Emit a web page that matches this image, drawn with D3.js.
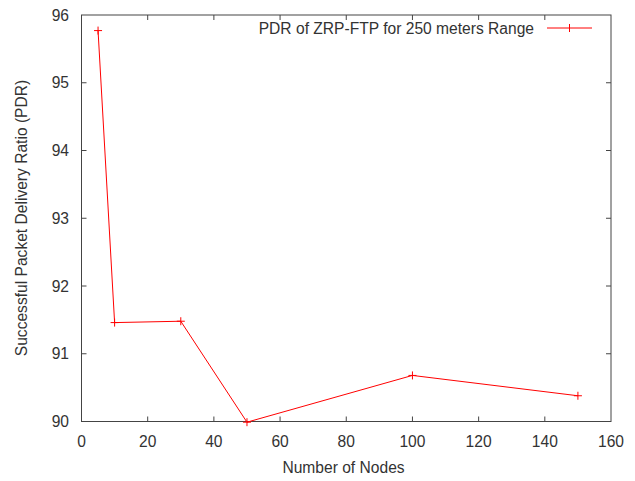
<!DOCTYPE html>
<html><head><meta charset="utf-8">
<script src="https://cdn.jsdelivr.net/npm/d3@7"></script>
<style>body{margin:0;background:#fff}svg{display:block}text{font-family:"Liberation Sans",Arial,sans-serif;fill:#333}</style>
</head><body>
<script>
const nodes = [5, 10, 30, 50, 100, 150];
const pdr = [95.77, 91.46, 91.48, 89.99, 90.68, 90.38];
const xTicks = [0, 20, 40, 60, 80, 100, 120, 140, 160];
const yTicks = [90, 91, 92, 93, 94, 95, 96];
const seriesName = "PDR of ZRP-FTP for 250 meters Range";

const W = 635, H = 481;
const L = 81.5, R = 611, T = 15, B = 421.5;
const FS = 15.6;
const svg = d3.select("body").append("svg").attr("width", W).attr("height", H);
const x = d3.scaleLinear().domain([0, 160]).range([L, R]);
const y = d3.scaleLinear().domain([90, 96]).range([B, T]);
const axisColor = "#444";
const tl = 5;

const g = svg.append("g");
xTicks.forEach(t => {
  if (t === 0 || t === 160) return;
  g.append("line").attr("x1", x(t)).attr("x2", x(t)).attr("y1", B).attr("y2", B - tl).attr("stroke", axisColor);
  g.append("line").attr("x1", x(t)).attr("x2", x(t)).attr("y1", T).attr("y2", T + tl).attr("stroke", axisColor);
});
yTicks.forEach(t => {
  if (t === 90 || t === 96) return;
  g.append("line").attr("x1", L).attr("x2", L + tl).attr("y1", y(t)).attr("y2", y(t)).attr("stroke", axisColor);
  g.append("line").attr("x1", R).attr("x2", R - tl).attr("y1", y(t)).attr("y2", y(t)).attr("stroke", axisColor);
});
g.append("rect").attr("x", L).attr("y", T).attr("width", R - L).attr("height", B - T)
  .attr("fill", "none").attr("stroke", axisColor).attr("stroke-width", 1);

xTicks.forEach(t => {
  svg.append("text").attr("x", x(t)).attr("y", B + 25).attr("text-anchor", "middle")
    .attr("font-size", FS).text(t);
});
yTicks.forEach(t => {
  svg.append("text").attr("x", 69).attr("y", y(t) + 5.5).attr("text-anchor", "end")
    .attr("font-size", FS).text(t);
});

svg.append("text").attr("x", 343.5).attr("y", 473).attr("text-anchor", "middle")
  .attr("font-size", FS).text("Number of Nodes");
svg.append("text").attr("transform", `translate(27,218) rotate(-90)`)
  .attr("text-anchor", "middle").attr("font-size", FS).text("Successful Packet Delivery Ratio (PDR)");

const data = nodes.map((n, i) => [n, pdr[i]]);
svg.append("path").datum(data).attr("fill", "none").attr("stroke", "#ff0000").attr("stroke-width", 1)
  .attr("d", d3.line().x(d => x(d[0])).y(d => y(d[1])));
const ps = 4;
data.forEach(d => {
  const cx = x(d[0]), cy = y(d[1]);
  svg.append("line").attr("x1", cx - ps).attr("x2", cx + ps).attr("y1", cy).attr("y2", cy).attr("stroke", "#ff0000");
  svg.append("line").attr("x1", cx).attr("x2", cx).attr("y1", cy - ps).attr("y2", cy + ps).attr("stroke", "#ff0000");
});

svg.append("text").attr("x", 534).attr("y", 33.5).attr("text-anchor", "end").attr("font-size", FS).text(seriesName);
svg.append("line").attr("x1", 547).attr("x2", 592).attr("y1", 28).attr("y2", 28).attr("stroke", "#ff0000");
svg.append("line").attr("x1", 569.5).attr("x2", 569.5).attr("y1", 24).attr("y2", 32).attr("stroke", "#ff0000");
</script>
</body></html>
